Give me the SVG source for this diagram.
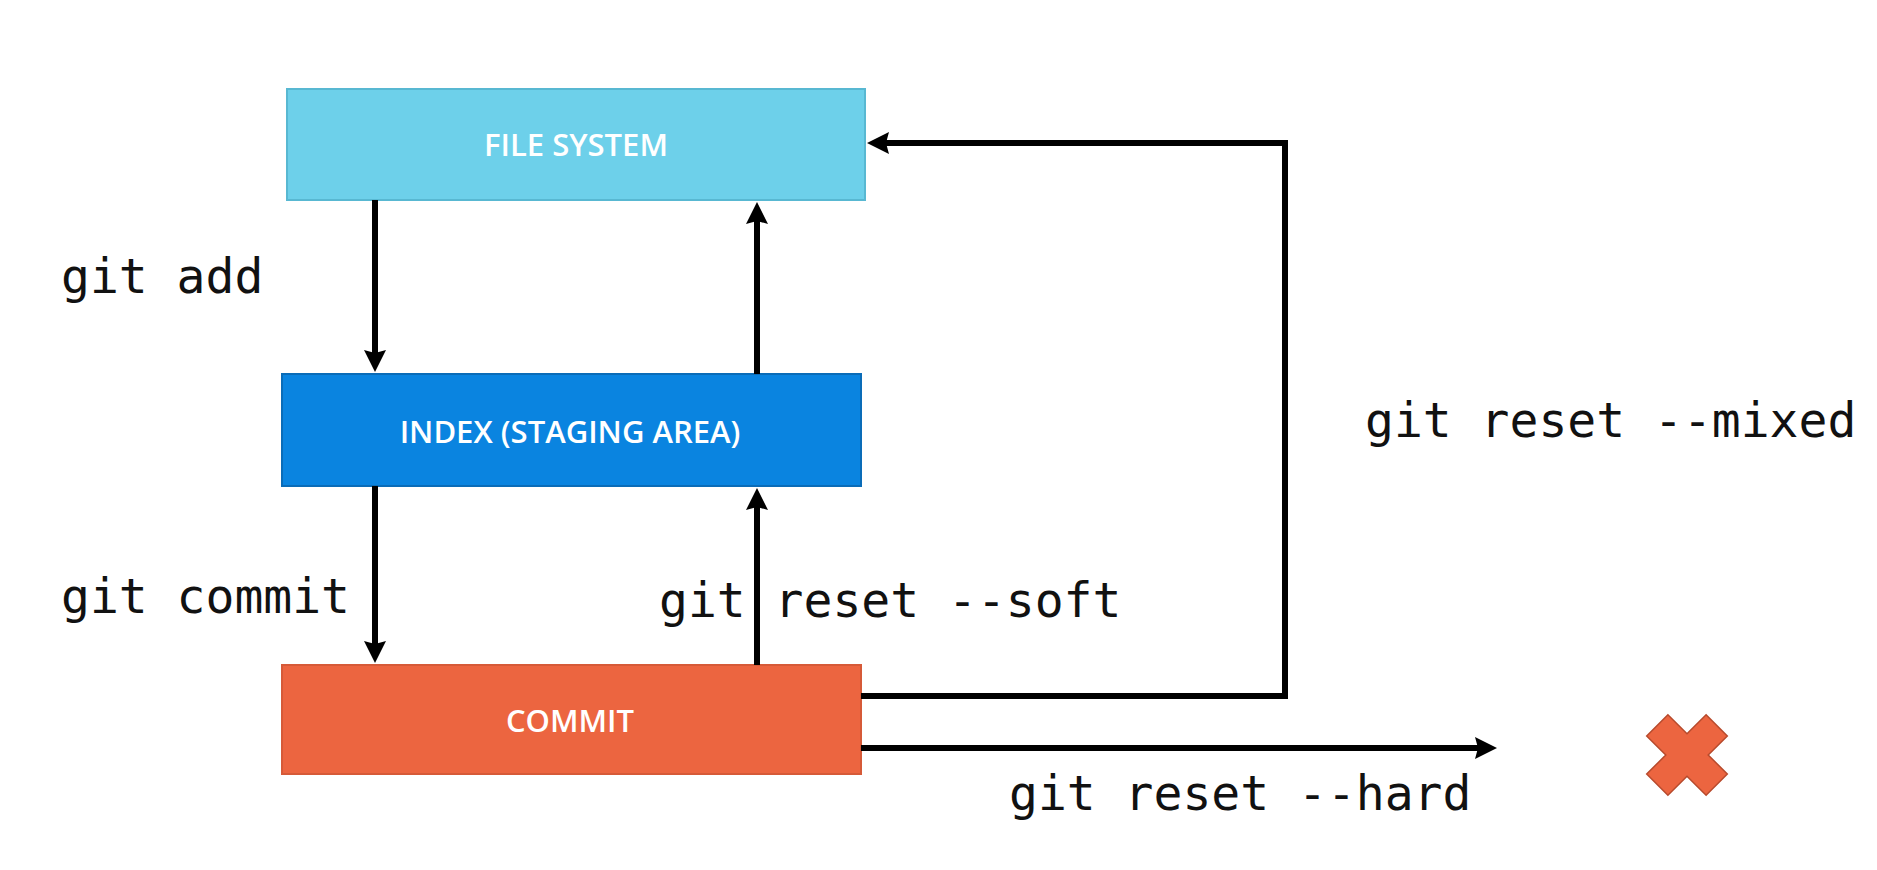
<svg xmlns="http://www.w3.org/2000/svg" width="1877" height="870" viewBox="0 0 1877 870">
<style>
.box-label{font-family:"Open Sans","Noto Sans","Liberation Sans",sans-serif;font-size:31px;font-weight:600;fill:#ffffff;text-anchor:middle}
.cmd{font-family:"DejaVu Sans Mono","Liberation Mono",monospace;font-size:48px;fill:#111111}
.conn{fill:none;stroke:#000000;stroke-width:6}
</style>
<defs>
<marker id="arrow" markerUnits="userSpaceOnUse" markerWidth="24" markerHeight="24" viewBox="0 0 24 24" refX="12" refY="12" orient="auto">
<path d="M0,1 L22,12 L0,23 L3,12 z" fill="#000000"/>
</marker>
</defs>
<rect width="1877" height="870" fill="#ffffff"/>
<g id="node-filesystem">
<rect x="287" y="89" width="578" height="111" fill="#6dd0ea" stroke="#58b8d2" stroke-width="2"/>
<text class="box-label" x="576" y="156">FILE SYSTEM</text>
</g>
<g id="node-index">
<rect x="282" y="374" width="579" height="112" fill="#0a84e0" stroke="#0a6cb8" stroke-width="2"/>
<text class="box-label" x="570" y="443">INDEX (STAGING AREA)</text>
</g>
<g id="node-commit">
<rect x="282" y="665" width="579" height="109" fill="#ec6540" stroke="#d65a38" stroke-width="2"/>
<text class="box-label" x="570" y="732">COMMIT</text>
</g>
<g id="connectors">
<path class="conn" d="M375,200 V362" marker-end="url(#arrow)"/>
<path class="conn" d="M757,374 V212" marker-end="url(#arrow)"/>
<path class="conn" d="M375,486 V653" marker-end="url(#arrow)"/>
<path class="conn" d="M757,665 V498" marker-end="url(#arrow)"/>
<path class="conn" d="M861,696 H1285 V143 H877" marker-end="url(#arrow)"/>
<path class="conn" d="M861,748 H1487" marker-end="url(#arrow)"/>
</g>
<g id="labels">
<text class="cmd" x="61" y="293">git add</text>
<text class="cmd" x="61" y="613">git commit</text>
<text class="cmd" x="659" y="617">git reset --soft</text>
<text class="cmd" x="1365" y="437">git reset --mixed</text>
<text class="cmd" x="1009" y="810">git reset --hard</text>
</g>
<g id="x-mark">
<polygon transform="translate(1687,755) rotate(45)" points="-15,-42 15,-42 15,-15 42,-15 42,15 15,15 15,42 -15,42 -15,15 -42,15 -42,-15 -15,-15" fill="#ec6540" stroke="#b84a2c" stroke-width="1.5"/>
</g>
</svg>
